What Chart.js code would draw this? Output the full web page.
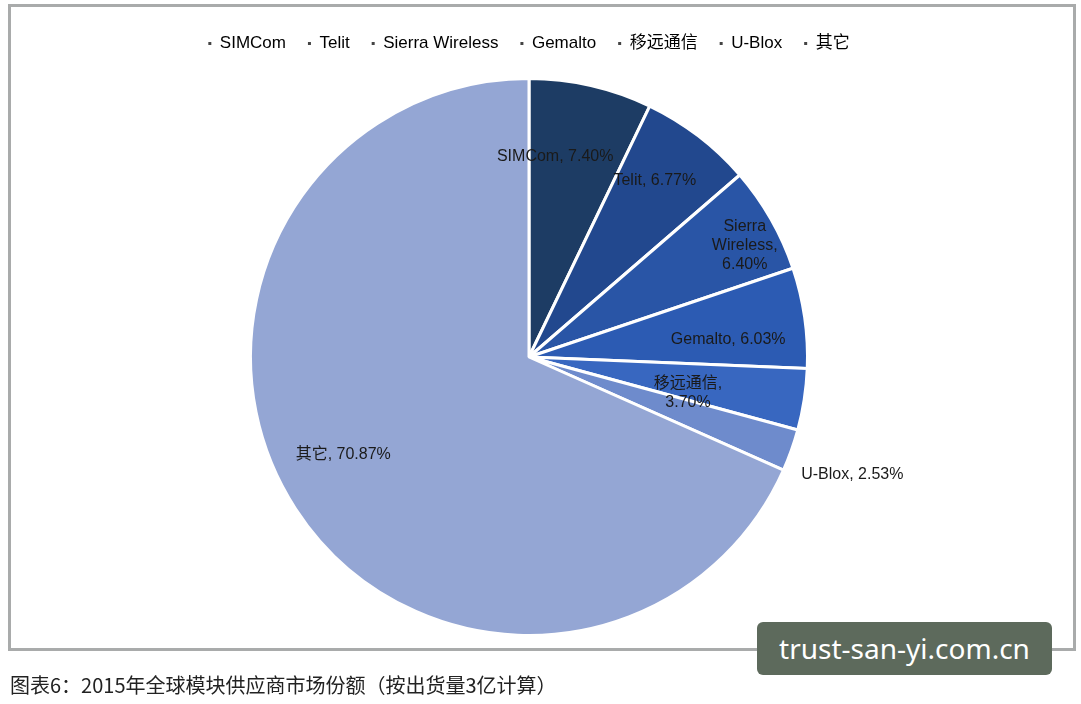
<!DOCTYPE html>
<html>
<head>
<meta charset="utf-8">
<script src="https://cdn.jsdelivr.net/npm/chart.js@4"></script>
<style>
  body { margin: 0; width: 1081px; height: 704px; background: #fff; position: relative; overflow: hidden; }
  #frame { position: absolute; left: 8px; top: 4px; width: 1062px; height: 641px; border: 3px solid #a9abab; }
  #wrap { position: absolute; left: 0; top: 0; width: 1081px; height: 704px; }
  #caption { position: absolute; left: 10px; top: 670px; font: 20px "Noto Sans CJK SC"; color: #222; }
  #mark { position: absolute; left: 757px; top: 622px; width: 295px; height: 53px; background: #5d6a5c; border-radius: 6px;
          color: #fff; font: 28px "Noto Sans", sans-serif; text-align: center; line-height: 53px; }
</style>
</head>
<body>
<div id="frame"></div>
<div id="wrap"><canvas id="c"></canvas></div>
<div id="caption">图表6：2015年全球模块供应商市场份额（按出货量3亿计算）</div>
<div id="mark">trust-san-yi.com.cn</div>
<script>
const labels = ["SIMCom", "Telit", "Sierra Wireless", "Gemalto", "移远通信", "U-Blox", "其它"];
const shares = [7.40, 6.77, 6.40, 6.03, 3.70, 2.53, 70.87];
const colors = ["#1d3c64", "#22488e", "#2955a6", "#2c5bb3", "#3867c0", "#6e8bcc", "#94a6d4"];
// label placement: [distance from centre px, angle shift deg, lines]
const labelPos = [
  [202, -5.4, ["SIMCom, 7.40%"]],
  [217, -2.0, ["Telit, 6.77%"]],
  [243, 2.3, ["Sierra", "Wireless,", "6.40%"]],
  [200, 3.1, ["Gemalto, 6.03%"]],
  [163, 4.0, ["移远通信,", "3.70%"]],
  [344, 0.4, ["U-Blox, 2.53%"]],
  [210, 5.2, ["其它, 70.87%"]],
];

const sliceLabels = {
  id: "sliceLabels",
  beforeInit(chart) {
    const fit = chart.legend.fit;
    chart.legend.fit = function () {
      fit.call(this);
      this.height += 15;
    };
  },
  afterDatasetsDraw(chart) {
    const ctx = chart.ctx;
    const meta = chart.getDatasetMeta(0);
    ctx.save();
    ctx.fillStyle = "#1a1a1a";
    ctx.font = '16px "Liberation Sans", "Noto Sans CJK SC"';
    ctx.textAlign = "center";
    ctx.textBaseline = "middle";
    meta.data.forEach((arc, i) => {
      const [r, shift, lines] = labelPos[i];
      const a = (arc.startAngle + arc.endAngle) / 2 + shift * Math.PI / 180;
      const x = arc.x + r * Math.cos(a);
      const y = arc.y + r * Math.sin(a);
      lines.forEach((t, k) => ctx.fillText(t, x, y + (k - (lines.length - 1) / 2) * 19));
    });
    ctx.restore();
  },
};

new Chart(document.getElementById("c"), {
  type: "pie",
  data: {
    labels,
    datasets: [{ data: shares, backgroundColor: colors, borderColor: "#fff", borderWidth: 3 }],
  },
  options: {
    responsive: true,
    maintainAspectRatio: false,
    animation: false,
    layout: { padding: { top: 13, bottom: 67, left: 0, right: 23 } },
    plugins: {
      tooltip: { enabled: false },
      legend: {
        position: "top",
        labels: {
          color: "#333",
          font: { size: 17, family: '"Liberation Sans", "Noto Sans CJK SC"' },
          boxWidth: 3,
          boxHeight: 3,
          padding: 22,
          generateLabels: (chart) =>
            chart.data.labels.map((l, i) => ({
              text: l, fillStyle: "#444", strokeStyle: "#444", lineWidth: 0, index: i,
            })),
        },
      },
    },
  },
  plugins: [sliceLabels],
});
</script>
</body>
</html>
